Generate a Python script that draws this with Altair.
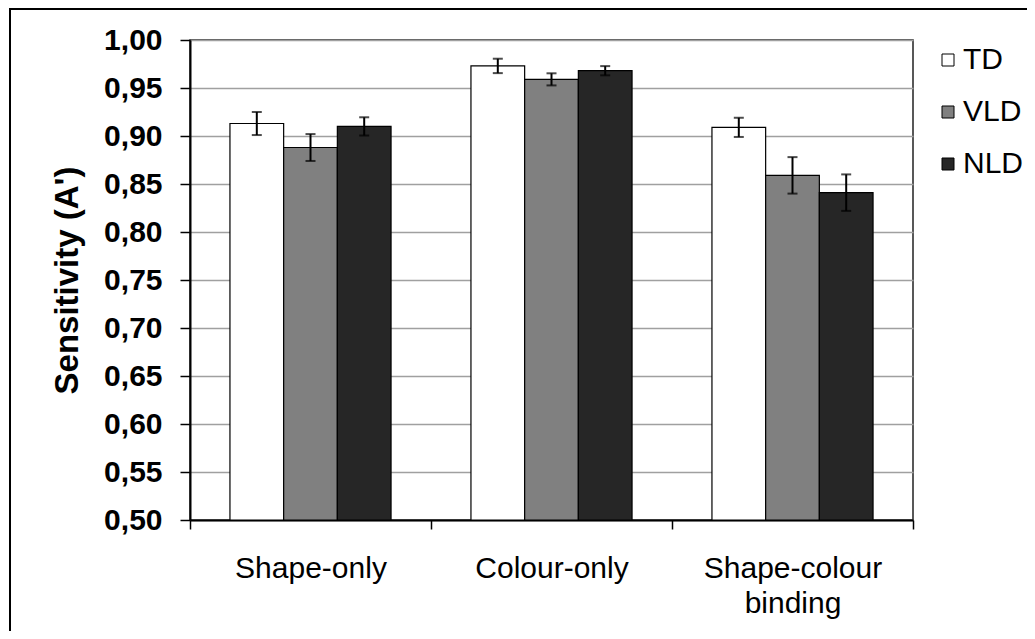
import altair as alt
import pandas as pd

conditions = ["Shape-only", "Colour-only", "Shape-colour binding"]
groups = ["TD", "VLD", "NLD"]
colors = ["#ffffff", "#808080", "#262626"]

td_means = [0.913, 0.973, 0.909]
vld_means = [0.888, 0.959, 0.859]
nld_means = [0.910, 0.968, 0.841]

td_err = [0.012, 0.0075, 0.010]
vld_err = [0.014, 0.0063, 0.019]
nld_err = [0.0095, 0.0048, 0.019]

y_ticks = [0.50, 0.55, 0.60, 0.65, 0.70, 0.75, 0.80, 0.85, 0.90, 0.95, 1.00]

rows = []
for g, ms, es in [("TD", td_means, td_err), ("VLD", vld_means, vld_err), ("NLD", nld_means, nld_err)]:
    for c, m, e in zip(conditions, ms, es):
        rows.append({"condition": c, "group": g, "mean": m, "lo": m - e, "hi": m + e})
df = pd.DataFrame(rows)

W, H = 723, 480
FONT = "Liberation Sans"

x_enc = alt.X(
    "condition:N",
    sort=conditions,
    scale=alt.Scale(paddingInner=0, paddingOuter=0),
    axis=alt.Axis(
        title=None,
        labelAngle=0,
        tickBand="extent",
        tickSize=9,
        tickColor="black",
        tickWidth=1.5,
        domainColor="black",
        domainWidth=2,
        labelFont=FONT,
        labelFontSize=30,
        labelColor="black",
        labelPadding=24,
        labelLineHeight=35,
        labelExpr="datum.value == 'Shape-colour binding' ? ['Shape-colour', 'binding'] : datum.value",
    ),
)
xoff_enc = alt.XOffset(
    "group:N", sort=groups, scale=alt.Scale(paddingInner=0, paddingOuter=0.744)
)
y_scale = alt.Scale(domain=[0.5, 1.0], zero=False, nice=False)

base = alt.Chart(df)

bars = base.mark_bar(stroke="black", strokeWidth=1.2).encode(
    x=x_enc,
    xOffset=xoff_enc,
    y=alt.Y(
        "mean:Q",
        scale=y_scale,
        axis=alt.Axis(
            values=y_ticks,
            labelExpr="replace(format(datum.value, '.2f'), '.', ',')",
            labelFont=FONT,
            labelFontSize=30,
            labelFontWeight="bold",
            labelColor="black",
            labelPadding=18,
            tickSize=10,
            tickColor="black",
            tickWidth=1.5,
            domainColor="black",
            domainWidth=2,
            grid=True,
            gridColor="#a0a0a0",
            gridWidth=1.5,
            title="Sensitivity (A')",
            titleFont=FONT,
            titleFontSize=33,
            titleFontWeight="bold",
            titleColor="black",
            titleAngle=270,
            titleX=-123,
            titleY=240,
            titleAlign="center",
            titleBaseline="middle",
        ),
    ),
    y2=alt.datum(0.5),
    fill=alt.Fill(
        "group:N",
        sort=groups,
        scale=alt.Scale(domain=groups, range=colors),
        legend=alt.Legend(
            title=None,
            orient="none",
            legendX=737,
            legendY=5,
            padding=0,
            symbolType="square",
            symbolSize=144,
            symbolOffset=6,
            symbolStrokeColor="black",
            symbolStrokeWidth=1,
            labelFont=FONT,
            labelFontSize=30,
            labelColor="black",
            labelOffset=0,
            rowPadding=22,
        ),
    ),
)

rules = base.mark_rule(color="black", strokeWidth=2).encode(
    x=x_enc, xOffset=xoff_enc, y=alt.Y("lo:Q", scale=y_scale), y2="hi:Q"
)
cap_lo = base.mark_tick(color="black", thickness=2, size=10, orient="horizontal").encode(
    x=x_enc, xOffset=xoff_enc, y=alt.Y("lo:Q", scale=y_scale)
)
cap_hi = base.mark_tick(color="black", thickness=2, size=10, orient="horizontal").encode(
    x=x_enc, xOffset=xoff_enc, y=alt.Y("hi:Q", scale=y_scale)
)

frame = alt.Chart(pd.DataFrame({"f": [0]})).mark_rect(
    fillOpacity=0, stroke="black", strokeWidth=2
).encode(
    x=alt.value(-180), x2=alt.value(W + 300), y=alt.value(-31), y2=alt.value(H + 300)
)

chart = (
    alt.layer(bars, rules, cap_lo, cap_hi, frame)
    .properties(
        width=W,
        height=H,
        padding={"left": 182, "top": 32, "right": 114, "bottom": 111},
        autosize=alt.AutoSizeParams(type="none"),
        background="white",
    )
    .configure_view(stroke="#222222", strokeWidth=1.5)
)

chart.save("out.html", embed_options={"renderer": "svg", "actions": False})
